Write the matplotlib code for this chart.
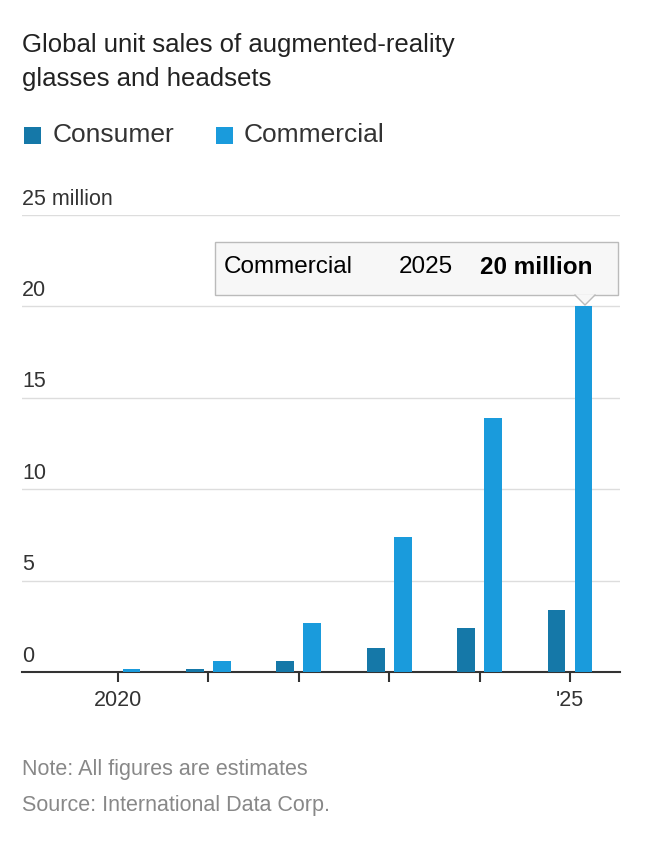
import matplotlib
matplotlib.use("Agg")
import matplotlib.pyplot as plt
from matplotlib.patches import FancyBboxPatch, Polygon

years = [2020, 2021, 2022, 2023, 2024, 2025]
consumer = [0.0, 0.15, 0.6, 1.3, 2.4, 3.4]
commercial = [0.15, 0.6, 2.7, 7.4, 13.9, 20.0]
yticks = [0, 5, 10, 15, 20, 25]
ytick_labels = ["0", "5", "10", "15", "20", "25 million"]
xtick_labels = {2020: "2020", 2025: "'25"}

W, H = 646, 842
FF = "Liberation Sans"
fig = plt.figure(figsize=(W/100, H/100), dpi=100)
ax = fig.add_axes([22/W, 1-672/H, (620-22)/W, (672-215)/H])
ax.set_xlim(2020 - 96/90.4, 2025 + 50/90.4)
ax.set_ylim(0, 25)
off = 13.5/90.4
bw = 18/90.4
ax.bar([y - off for y in years], consumer, width=bw, color="#1578a8", zorder=3)
ax.bar([y + off for y in years], commercial, width=bw, color="#1a9bdc", zorder=3)
for s in ["top", "right", "left"]:
    ax.spines[s].set_visible(False)
ax.spines["bottom"].set_color("#333333")
ax.spines["bottom"].set_linewidth(1.5)
ax.set_yticks([])
for v, lab in zip(yticks, ytick_labels):
    if v > 0:
        ax.axhline(v, color="#dddddd", lw=1, zorder=1)
    ax.text(2020 - 96/90.4, v + 0.3, lab, fontsize=15.5, color="#333333",
            ha="left", va="bottom", fontfamily=FF)
ax.set_xticks(years)
ax.set_xticklabels([xtick_labels.get(y, "") for y in years], fontsize=15.5,
                   color="#333333", fontfamily=FF)
ax.tick_params(axis="x", length=7, width=1.5, color="#333333", pad=6)

# tooltip
bx0, by0, bx1, by1 = 215, 242, 618, 295
box = FancyBboxPatch((bx0/W, 1-by1/H), (bx1-bx0)/W, (by1-by0)/H,
                     boxstyle="square,pad=0", transform=fig.transFigure,
                     facecolor="#f7f7f7", edgecolor="#bbbbbb", lw=1, zorder=5)
fig.patches.append(box)
tri = Polygon([(575/W, 1-294.5/H), (595/W, 1-294.5/H), (585/W, 1-305/H)],
              closed=True, transform=fig.transFigure, facecolor="#f7f7f7",
              edgecolor="none", zorder=6)
fig.patches.append(tri)
fig.lines.append(plt.Line2D([575/W, 585/W, 595/W], [1-295/H, 1-305/H, 1-295/H],
                            transform=fig.transFigure, color="#bbbbbb", lw=1, zorder=7))
ty = 1-267/H
fig.text(224/W, ty, "Commercial", fontsize=17.5, va="center", fontfamily=FF, zorder=10)
fig.text(399/W, ty, "2025", fontsize=17.5, va="center", fontfamily=FF, zorder=10)
fig.text(480/W, ty, "20 million", fontsize=17.5, va="center", fontweight="bold",
         fontfamily=FF, zorder=10)

fig.text(22/W, 1-45/H, "Global unit sales of augmented-reality", fontsize=18.5,
         va="center", color="#222222", fontfamily=FF)
fig.text(22/W, 1-79/H, "glasses and headsets", fontsize=18.5,
         va="center", color="#222222", fontfamily=FF)
# legend
fig.patches.append(FancyBboxPatch((24/W, 1-144/H), 17/W, 17/H, boxstyle="square,pad=0",
                                  transform=fig.transFigure, facecolor="#1578a8", edgecolor="none"))
fig.text(53/W, 1-135/H, "Consumer", fontsize=19, va="center", color="#333333", fontfamily=FF)
fig.patches.append(FancyBboxPatch((216/W, 1-144/H), 17/W, 17/H, boxstyle="square,pad=0",
                                  transform=fig.transFigure, facecolor="#1a9bdc", edgecolor="none"))
fig.text(244/W, 1-135/H, "Commercial", fontsize=19, va="center", color="#333333", fontfamily=FF)

fig.text(22/W, 1-770/H, "Note: All figures are estimates", fontsize=15.5, va="center",
         color="#888888", fontfamily=FF)
fig.text(22/W, 1-805/H, "Source: International Data Corp.", fontsize=15.5, va="center",
         color="#888888", fontfamily=FF)
fig.savefig("out.png", dpi=100, facecolor="white")
